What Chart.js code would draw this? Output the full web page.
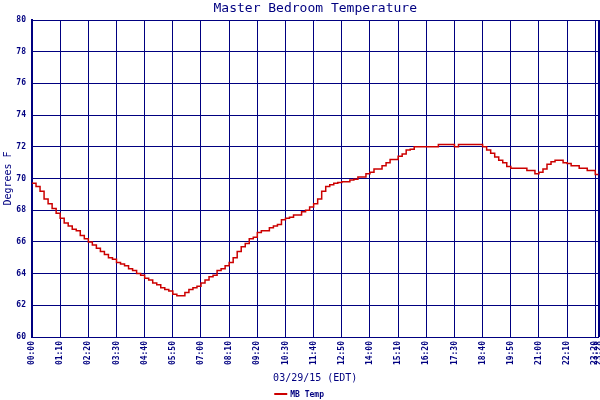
<!DOCTYPE html>
<html>
<head>
<meta charset="utf-8">
<title>Master Bedroom Temperature</title>
<script src="https://cdn.jsdelivr.net/npm/chart.js@4.4.1/dist/chart.umd.min.js"></script>
<style>
  html, body { margin: 0; padding: 0; background: #fff; }
  #wrap { width: 600px; height: 400px; position: relative; }
</style>
</head>
<body>
<div id="wrap"><canvas id="tempChart"></canvas></div>
<script>
// minutes after midnight, one reading every 10 minutes (last one at 23:28)
const minutes = [
    0,   10,   20,   30,   40,   50,
   60,   70,   80,   90,  100,  110,
  120,  130,  140,  150,  160,  170,
  180,  190,  200,  210,  220,  230,
  240,  250,  260,  270,  280,  290,
  300,  310,  320,  330,  340,  350,
  360,  370,  380,  390,  400,  410,
  420,  430,  440,  450,  460,  470,
  480,  490,  500,  510,  520,  530,
  540,  550,  560,  570,  580,  590,
  600,  610,  620,  630,  640,  650,
  660,  670,  680,  690,  700,  710,
  720,  730,  740,  750,  760,  770,
  780,  790,  800,  810,  820,  830,
  840,  850,  860,  870,  880,  890,
  900,  910,  920,  930,  940,  950,
  960,  970,  980,  990, 1000, 1010,
 1020, 1030, 1040, 1050, 1060, 1070,
 1080, 1090, 1100, 1110, 1120, 1130,
 1140, 1150, 1160, 1170, 1180, 1190,
 1200, 1210, 1220, 1230, 1240, 1250,
 1260, 1270, 1280, 1290, 1300, 1310,
 1320, 1330, 1340, 1350, 1360, 1370,
 1380, 1390, 1400, 1408
];

// MB Temp, degrees F
const mbTemp = [
  69.7, 69.5, 69.2, 68.7, 68.4, 68.1,
  67.8, 67.5, 67.2, 67.0, 66.8, 66.7,
  66.4, 66.2, 66.0, 65.8, 65.6, 65.4,
  65.2, 65.0, 64.9, 64.7, 64.6, 64.5,
  64.3, 64.2, 64.0, 63.9, 63.7, 63.6,
  63.4, 63.3, 63.1, 63.0, 62.9, 62.7,
  62.6, 62.6, 62.8, 63.0, 63.1, 63.2,
  63.4, 63.6, 63.8, 63.9, 64.2, 64.3,
  64.5, 64.7, 65.0, 65.4, 65.7, 65.9,
  66.2, 66.3, 66.6, 66.7, 66.7, 66.9,
  67.0, 67.1, 67.4, 67.5, 67.55, 67.7,
  67.7, 67.9, 68.0, 68.2, 68.4, 68.7,
  69.2, 69.5, 69.6, 69.7, 69.75, 69.8,
  69.8, 69.9, 69.95, 70.1, 70.1, 70.3,
  70.4, 70.6, 70.6, 70.8, 71.0, 71.2,
  71.2, 71.4, 71.55, 71.8, 71.85, 72.0,
  72.0, 72.0, 72.0, 72.0, 72.0, 72.15,
  72.15, 72.15, 72.15, 72.0, 72.15, 72.15,
  72.15, 72.15, 72.15, 72.15, 72.0, 71.8,
  71.6, 71.35, 71.15, 71.0, 70.75, 70.65,
  70.65, 70.65, 70.65, 70.5, 70.5, 70.3,
  70.4, 70.6, 70.9, 71.05, 71.15, 71.15,
  71.0, 70.95, 70.8, 70.8, 70.65, 70.65,
  70.5, 70.5, 70.25, 70.3
];

const tickMinutes = [0, 70, 140, 210, 280, 350, 420, 490, 560, 630, 700,
  770, 840, 910, 980, 1050, 1120, 1190, 1260, 1330, 1400, 1408];
const tickLabels = ["00:00", "01:10", "02:20", "03:30", "04:40", "05:50", "07:00",
  "08:10", "09:20", "10:30", "11:40", "12:50", "14:00", "15:10", "16:20",
  "17:30", "18:40", "19:50", "21:00", "22:10", "23:20", "23:28"];

const navy = "#000080";
const red = "#cc0000";
const mono = "'DejaVu Sans Mono', 'Liberation Mono', monospace";

// small legend under the axis title
const legendLine = {
    id: "legendLine",
    afterDraw(chart) {
        const ctx = chart.ctx;
        const mid = (chart.chartArea.left + chart.chartArea.right) / 2;
        ctx.save();
        ctx.strokeStyle = red;
        ctx.lineWidth = 2;
        ctx.beginPath();
        ctx.moveTo(mid - 41, 394);
        ctx.lineTo(mid - 28, 394);
        ctx.stroke();
        ctx.fillStyle = navy;
        ctx.font = "bold 8px " + mono;
        ctx.textBaseline = "middle";
        ctx.fillText(chart.data.datasets[0].label, mid - 25, 394.5);
        ctx.restore();
    }
};

new Chart(document.getElementById("tempChart"), {
    type: "line",
    data: {
        datasets: [{
            label: "MB Temp",
            data: minutes.map((m, i) => ({ x: m, y: mbTemp[i] })),
            borderColor: red,
            borderWidth: 1.5,
            pointRadius: 0,
            stepped: true,
            fill: false
        }]
    },
    options: {
        responsive: true,
        maintainAspectRatio: false,
        animation: false,
        devicePixelRatio: 1,
        layout: { padding: { top: 0, right: 1.5, bottom: 13, left: 0 } },
        plugins: {
            legend: { display: false },
            tooltip: { enabled: false },
            title: {
                display: true,
                text: "Master Bedroom Temperature",
                color: navy,
                fullSize: false,
                font: { family: mono, size: 13, weight: "normal" },
                padding: { top: 1, bottom: 3.4 }
            }
        },
        scales: {
            x: {
                type: "linear",
                min: 0,
                max: 1408,
                afterBuildTicks: s => { s.ticks = tickMinutes.map(v => ({ value: v })); },
                afterFit: s => { s.height = 50; s.paddingLeft = 0; s.paddingRight = 0; },
                ticks: {
                    autoSkip: false,
                    minRotation: 90,
                    maxRotation: 90,
                    padding: 4,
                    color: navy,
                    font: { family: mono, size: 8, weight: "bold" },
                    callback: (v, i) => tickLabels[i]
                },
                grid: {
                    color: navy,
                    lineWidth: c => (c.index === tickMinutes.length - 1 ? 2 : 1),
                    drawTicks: false
                },
                border: { color: navy, width: 1 },
                title: {
                    display: true,
                    text: "03/29/15 (EDT)",
                    color: navy,
                    font: { family: mono, size: 10 },
                    padding: { top: 0, bottom: 3 }
                }
            },
            y: {
                min: 60,
                max: 80,
                afterFit: s => { s.width = 32; },
                ticks: {
                    stepSize: 2,
                    padding: 6,
                    color: navy,
                    font: { family: mono, size: 8, weight: "bold" }
                },
                grid: { color: navy, lineWidth: 1, drawTicks: false },
                border: { color: navy, width: 2 },
                title: {
                    display: true,
                    text: "Degrees F",
                    color: navy,
                    font: { family: mono, size: 10 },
                    padding: { top: 2, bottom: 0 }
                }
            }
        }
    },
    plugins: [legendLine]
});
</script>
</body>
</html>
